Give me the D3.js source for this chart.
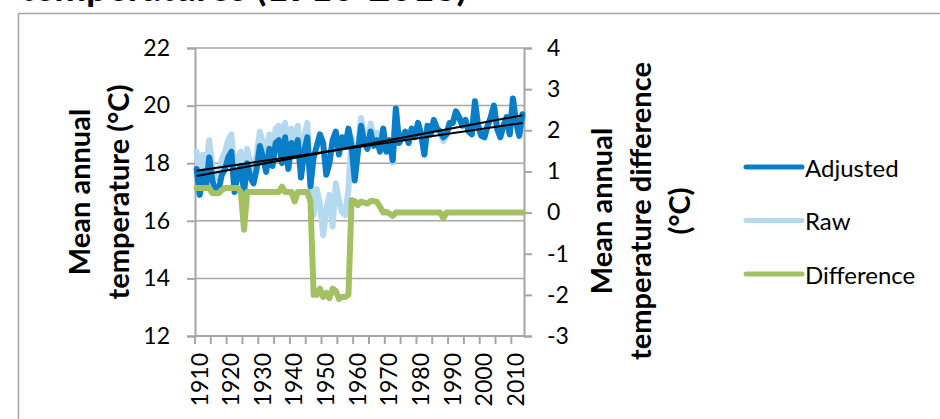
<!DOCTYPE html>
<html>
<head>
<meta charset="utf-8">
<script src="https://cdn.jsdelivr.net/npm/d3@7"></script>
<style>
  html, body { margin: 0; padding: 0; background: #fff; }
  svg { display: block; font-family: Lato, "Open Sans", sans-serif; }
</style>
</head>
<body>
<div id="chart"></div>
<script>
var width = 940,
	height = 419;

// years 1910..2013
var years = d3.range(1910, 2014);

// mean annual temperature, homogenised (deg C)
var adjusted = [
	17.8, 16.9, 17.7, 17.2, 18.2, 17.4, 17.0, 17.1, 17.6, 17.8,
	18.2, 18.4, 17.0, 17.6, 17.9, 17.0, 18.0, 17.5, 17.3, 17.8,
	18.6, 18.2, 17.7, 18.5, 17.9, 18.7, 18.8, 18.0, 18.9, 17.8,
	18.7, 18.3, 18.8, 17.5, 18.4, 18.9, 17.2, 18.2, 18.6, 19.0,
	18.7, 17.6, 18.0, 18.8, 19.1, 18.3, 18.9, 18.6, 19.2, 18.6,
	17.4, 18.4, 19.3, 18.7, 18.5, 19.1, 18.6, 18.8, 18.4, 19.2,
	18.4, 18.8, 18.1, 19.9, 18.7, 18.9, 19.1, 18.7, 19.2, 18.9,
	19.4, 19.0, 18.3, 19.3, 19.0, 19.5, 19.2, 19.1, 18.9, 19.0,
	19.4, 19.4, 19.8, 19.6, 19.3, 19.5, 19.1, 19.0, 20.15, 19.3,
	18.95, 18.9, 19.3, 19.6, 20.0, 19.2, 18.9, 19.3, 19.6, 19.0,
	20.25, 19.4, 18.95, 19.7
];

// mean annual temperature, raw record (deg C)
var raw = [
	18.4, 17.5, 18.3, 17.8, 18.8, 17.87, 17.47, 17.57, 18.15, 18.4,
	18.8, 19.0, 17.6, 18.2, 18.4, 16.9, 18.5, 18.0, 17.8, 18.3,
	19.1, 18.7, 18.2, 19.0, 18.4, 19.2, 19.3, 18.63, 19.4, 18.3,
	19.2, 18.57, 19.3, 18.0, 18.9, 19.4, 17.47, 16.2, 17.1, 16.6,
	15.5, 16.4, 16.9, 15.8, 17.3, 16.7, 16.3, 16.2, 17.1, 18.9,
	17.68, 18.58, 19.57, 18.94, 18.72, 19.38, 18.88, 19.06, 18.54, 19.2,
	18.42, 18.77, 18.02, 19.9, 18.7, 18.9, 19.1, 18.7, 19.2, 18.9,
	19.4, 19.0, 18.3, 19.3, 19.0, 19.5, 19.2, 19.1, 18.76, 19.0,
	19.4, 19.4, 19.8, 19.6, 19.3, 19.5, 19.1, 19.0, 20.15, 19.3,
	18.95, 18.9, 19.3, 19.6, 20.0, 19.2, 18.9, 19.3, 19.6, 19.0,
	20.25, 19.4, 18.95, 19.7
];

// difference raw - adjusted (deg C), secondary axis
var difference = [
	0.6, 0.6, 0.6, 0.6, 0.6, 0.47, 0.47, 0.47, 0.55, 0.6,
	0.6, 0.6, 0.6, 0.6, 0.5, -0.42, 0.5, 0.5, 0.5, 0.5,
	0.5, 0.5, 0.5, 0.5, 0.5, 0.5, 0.5, 0.63, 0.5, 0.5,
	0.5, 0.27, 0.5, 0.5, 0.5, 0.5, 0.27, -2.0, -2.0, -1.85,
	-2.05, -1.95, -2.08, -1.85, -1.9, -2.1, -2.05, -2.05, -2.0, 0.3,
	0.28, 0.18, 0.27, 0.24, 0.22, 0.28, 0.28, 0.26, 0.14, 0.0,
	0.02, -0.03, -0.08, 0, 0, 0, 0, 0, 0, 0,
	0, 0, 0, 0, 0, 0, 0, 0, -0.14, 0,
	0, 0, 0, 0, 0, 0, 0, 0, 0, 0,
	0, 0, 0, 0, 0, 0, 0, 0, 0, 0,
	0, 0, 0, 0
];

var leftTicks = [12, 14, 16, 18, 20, 22],
	rightTicks = [-3, -2, -1, 0, 1, 2, 3, 4],
	labelYears = d3.range(1910, 2011, 10),
	tickYears = d3.range(1910, 2011, 5);

var seriesNames = ['Adjusted', 'Raw', 'Difference'],
	seriesColors = ['#0a7dc8', '#b5daf0', '#a3c163'];

var svg = d3.select('#chart').append('svg')
	.attr('width', width)
	.attr('height', height);

// title, mostly cut off by the top edge
svg.append('text')
	.attr('x', 20)
	.attr('y', 1)
	.attr('textLength', 447)
	.attr('lengthAdjust', 'spacingAndGlyphs')
	.style('font-size', '36px')
	.style('font-weight', 'bold')
	.text('temperatures (1910-2013)');

// chart area border
svg.append('rect')
	.attr('x', 18.5)
	.attr('y', 13.5)
	.attr('width', 1000)
	.attr('height', 600)
	.style('fill', 'none')
	.style('stroke', '#a6a6a6')
	.style('stroke-width', 1.5);

var x = d3.scaleBand()
	.domain(years)
	.range([195, 524]);

var yL = d3.scaleLinear()
	.domain([12, 22])
	.range([336, 48]);

var yR = d3.scaleLinear()
	.domain([-3, 4])
	.range([336, 48]);

var cx = function(yr) { return x(yr) + x.bandwidth() / 2; };

// gridlines
svg.append('g')
	.selectAll('line')
	.data(leftTicks)
	.enter()
	.append('line')
	.attr('x1', 195)
	.attr('x2', 524)
	.attr('y1', function(d) { return yL(d); })
	.attr('y2', function(d) { return yL(d); })
	.style('stroke', '#a6a6a6')
	.style('stroke-width', 1.5);

// left axis
var gL = svg.append('g')
	.attr('transform', 'translate(195,0)')
	.call(d3.axisLeft(yL).tickValues(leftTicks).tickSize(8).tickPadding(17));

// right axis
var gR = svg.append('g')
	.attr('transform', 'translate(524,0)')
	.call(d3.axisRight(yR).tickValues(rightTicks).tickSize(8).tickPadding(15)
		.tickFormat(function(d) { return d < 0 ? '-' + Math.abs(d) : d; }));

// bottom axis: ticks between categories, labels on categories
var gB = svg.append('g')
	.attr('transform', 'translate(0,336)');
gB.append('line')
	.attr('x1', 195).attr('x2', 524)
	.attr('y1', 0).attr('y2', 0);
gB.selectAll('line.tk')
	.data(tickYears)
	.enter()
	.append('line')
	.classed('tk', true)
	.attr('x1', function(d) { return x(d); })
	.attr('x2', function(d) { return x(d); })
	.attr('y1', 0)
	.attr('y2', 8);
gB.selectAll('text')
	.data(labelYears)
	.enter()
	.append('text')
	.attr('transform', function(d) { return 'translate(' + (cx(d) + 2) + ',17) rotate(-90)'; })
	.attr('text-anchor', 'end')
	.attr('dominant-baseline', 'central')
	.text(function(d) { return d; });

[gL, gR, gB].forEach(function(g) {
	g.selectAll('path.domain, line')
		.style('stroke', '#a6a6a6')
		.style('stroke-width', 2);
	g.selectAll('text')
		.style('font-family', 'Lato, sans-serif')
		.style('font-size', '23px')
		.style('fill', '#000');
});

// series
var lineL = d3.line()
	.x(function(d) { return cx(d[0]); })
	.y(function(d) { return yL(d[1]); });

var lineR = d3.line()
	.x(function(d) { return cx(d[0]); })
	.y(function(d) { return yR(d[1]); });

function pairs(vals) {
	return years.map(function(yr, i) { return [yr, vals[i]]; });
}

svg.append('path')
	.attr('d', lineL(pairs(raw)))
	.style('fill', 'none')
	.style('stroke', seriesColors[1])
	.style('stroke-width', 6)
	.style('stroke-linejoin', 'round')
	.style('stroke-linecap', 'round');

svg.append('path')
	.attr('d', lineL(pairs(adjusted)))
	.style('fill', 'none')
	.style('stroke', seriesColors[0])
	.style('stroke-width', 6)
	.style('stroke-linejoin', 'round')
	.style('stroke-linecap', 'round');

// linear trend lines (least squares, like the spreadsheet trendline)
function trend(vals) {
	var n = vals.length,
		mx = d3.mean(years),
		my = d3.mean(vals),
		sxy = d3.sum(years, function(yr, i) { return (yr - mx) * (vals[i] - my); }),
		sxx = d3.sum(years, function(yr) { return (yr - mx) * (yr - mx); }),
		b = sxy / sxx;
	return [[years[0], my + b * (years[0] - mx)], [years[n - 1], my + b * (years[n - 1] - mx)]];
}

[adjusted, raw].forEach(function(vals) {
	svg.append('path')
		.attr('d', lineL(trend(vals)))
		.style('fill', 'none')
		.style('stroke', '#000')
		.style('stroke-width', 2);
});

svg.append('path')
	.attr('d', lineR(pairs(difference)))
	.style('fill', 'none')
	.style('stroke', seriesColors[2])
	.style('stroke-width', 6)
	.style('stroke-linejoin', 'round')
	.style('stroke-linecap', 'round');

// axis titles
function axisTitle(lines, x0, gap, yc) {
	lines.forEach(function(t, i) {
		svg.append('text')
			.attr('transform', 'translate(' + (x0 + i * gap) + ',' + yc + ') rotate(-90)')
			.attr('text-anchor', 'middle')
			.style('font-size', '29px')
			.style('font-weight', 'bold')
			.text(t);
	});
}
axisTitle(['Mean annual', 'temperature (\u00b0C)'], 90, 39, 192);
axisTitle(['Mean annual', 'temperature difference', '(\u00b0C)'], 612, 39, 211);

// legend
var legend = svg.append('g')
	.selectAll('g')
	.data(seriesNames)
	.enter()
	.append('g')
	.attr('transform', function(d, i) { return 'translate(746,' + (167 + i * 53.5) + ')'; });

legend.append('line')
	.attr('x1', 0).attr('x2', 56)
	.style('stroke', function(d, i) { return seriesColors[i]; })
	.style('stroke-width', 5)
	.style('stroke-linecap', 'round');

legend.append('text')
	.attr('x', 59)
	.attr('dominant-baseline', 'central')
	.style('font-size', '24px')
	.text(function(d) { return d; });
</script>
</body>
</html>
